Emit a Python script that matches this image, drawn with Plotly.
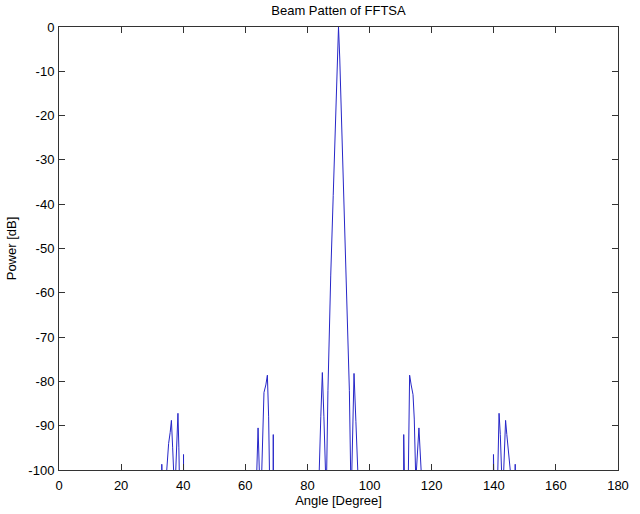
import plotly.graph_objects as go

# Beam pattern samples (angle in degrees, power in dB).
# Values below -100 dB lie outside the visible range (clipped by the axes).
angle_deg = [
    0.0, 32.9, 33.1, 33.3,
    34.6, 34.7, 35.3, 35.8, 36.2, 36.6, 36.9, 37.0,
    37.5, 37.6, 37.9, 38.3, 38.6, 38.7, 38.8,
    39.95, 40.1, 40.25,
    63.5, 63.7, 64.1, 64.5, 64.6,
    65.2, 65.3, 65.7, 66.0, 66.6, 67.1, 67.5, 67.8, 67.9,
    68.85, 69.0, 69.15,
    83.6, 83.8, 84.3, 84.8, 85.3, 85.8, 85.9,
    86.1, 86.2, 86.6, 87.0, 87.5, 88.3, 89.2, 89.6, 90.0,
    90.4, 90.8, 91.7, 92.5, 93.0, 93.5, 93.9, 94.0,
    94.2, 94.3, 94.6, 95.0, 95.6, 96.2, 96.3,
    110.85, 111.0, 111.15,
    112.4, 112.5, 112.9, 113.4, 114.0, 114.4, 114.8, 114.9,
    115.0, 115.1, 115.9, 116.6, 116.7,
    139.75, 139.9, 140.05,
    141.2, 141.3, 141.7, 142.1, 142.5, 142.6,
    143.1, 143.2, 143.8, 144.2, 144.8, 145.3, 145.4,
    146.7, 146.9, 147.1,
    180.0,
]
power_db = [
    -150, -150, -98.7, -150,
    -150, -100, -94.0, -91.5, -88.8, -95.0, -100, -150,
    -150, -100, -92.0, -87.2, -95.0, -100, -150,
    -150, -96.5, -150,
    -150, -100, -90.5, -100, -150,
    -150, -100, -88.5, -82.5, -80.8, -78.6, -88.0, -100, -150,
    -150, -92.0, -150,
    -150, -100, -88.0, -78.0, -88.0, -100, -150,
    -150, -100, -82.0, -67.5, -56.0, -38.0, -16.0, -7.0, 0.0,
    -7.0, -16.0, -38.0, -56.0, -67.5, -82.0, -100, -150,
    -150, -100, -88.0, -78.2, -89.0, -100, -150,
    -150, -92.0, -150,
    -150, -100, -78.6, -80.8, -83.0, -88.5, -100, -150,
    -150, -100, -90.5, -100, -150,
    -150, -96.5, -150,
    -150, -100, -87.2, -92.0, -100, -150,
    -150, -100, -88.8, -92.0, -96.0, -100, -150,
    -150, -98.7, -150,
    -150,
]

x_ticks = [0, 20, 40, 60, 80, 100, 120, 140, 160, 180]
y_ticks = [0, -10, -20, -30, -40, -50, -60, -70, -80, -90, -100]
y_tick_labels = ["0", "-10", "-20", "-30", "-40", "-50", "-60", "-70", "-80", "-90", "-100"]

title_text = "Beam Patten of FFTSA"
x_label = "Angle [Degree]"
y_label = "Power [dB]"

font_family = "Liberation Sans, Arial, sans-serif"
axis_color = "#333333"

fig = go.Figure()
fig.add_trace(go.Scatter(
    x=angle_deg, y=power_db, mode="lines",
    line=dict(color="#2626c8", width=1),
    hoverinfo="skip", showlegend=False,
))

axis_common = dict(
    showline=True, linecolor=axis_color, linewidth=1,
    mirror="ticks", ticks="inside", ticklen=6, tickwidth=1,
    tickcolor=axis_color, showgrid=False, zeroline=False,
    tickfont=dict(family=font_family, size=13, color="#000000"),
)

fig.update_layout(
    width=640, height=514,
    margin=dict(l=58, r=11, t=27, b=36),
    paper_bgcolor="white", plot_bgcolor="white",
    title=dict(
        text=title_text, x=0.5, xref="paper", xanchor="center",
        y=(514 - 10) / 514, yref="container", yanchor="middle",
        font=dict(family=font_family, size=13, color="#000000"),
    ),
    xaxis=dict(
        range=[0, 180], tickvals=x_ticks, ticklabelstandoff=3,
        title=dict(text=x_label, standoff=1,
                   font=dict(family=font_family, size=13, color="#000000")),
        **axis_common,
    ),
    yaxis=dict(
        range=[-100, 0], tickvals=y_ticks, ticktext=y_tick_labels,
        ticklabelstandoff=1,
        title=dict(text=y_label, standoff=8,
                   font=dict(family=font_family, size=13, color="#000000")),
        **axis_common,
    ),
)

fig.write_html("out.html")
